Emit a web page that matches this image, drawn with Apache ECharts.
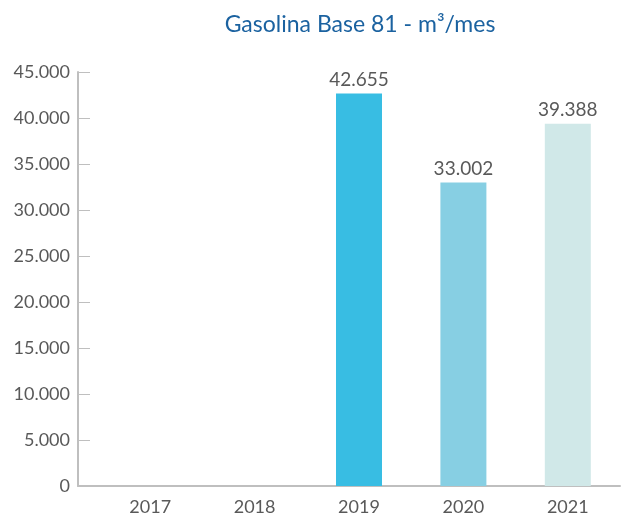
<!DOCTYPE html>
<html lang="es">
  <head>
    <meta charset="UTF-8" />
    <title>Gasolina Base 81</title>
    <script src="https://cdn.jsdelivr.net/npm/echarts@6/dist/echarts.min.js"></script>
  </head>
  <body style="margin:0">
    <div id="container" style="width: 624px;height: 517px"></div>
    <script>
      var years = ['2017', '2018', '2019', '2020', '2021']
      var volumes = [null, null, 42655, 33002, 39388]
      var barColors = ['#38bde3', '#38bde3', '#38bde3', '#87cfe3', '#d0e8e8']

      // separador de miles con punto
      function fmt(v) {
        return String(v).replace(/\B(?=(\d{3})+(?!\d))/g, '.')
      }

      var myChart = echarts.init(document.querySelector('#container'))
      myChart.setOption({
        animation: false,
        backgroundColor: '#fff',
        title: {
          text: 'Gasolina Base 81 - m³/mes',
          left: 355,
          textAlign: 'center',
          top: 8,
          textStyle: { color: '#1b62a0', fontSize: 23, fontWeight: 'normal', fontFamily: 'Lato' }
        },
        grid: [
          { left: 98, right: 4, top: 72, bottom: 31 },
          // solo para prolongar la linea base hasta el eje y
          { left: 78, right: 4, top: 486, bottom: 31 }
        ],
        xAxis: [
          {
            type: 'category',
            data: years,
            axisLine: { show: false },
            axisTick: { show: false },
            axisLabel: { color: '#595959', fontSize: 18, margin: 12, fontFamily: 'Lato' }
          },
          {
            type: 'category',
            gridIndex: 1,
            data: years,
            axisLine: { lineStyle: { color: '#bfbfbf', width: 2 } },
            axisTick: { show: false },
            axisLabel: { show: false }
          }
        ],
        yAxis: [
          {
            type: 'value',
            min: 0,
            max: 45000,
            interval: 5000,
            offset: 20,
            splitLine: { show: false },
            axisLine: { show: true, lineStyle: { color: '#bfbfbf', width: 2 } },
            axisTick: { show: true, inside: true, length: 12, lineStyle: { color: '#bfbfbf', width: 1 } },
            axisLabel: {
              color: '#595959',
              fontSize: 18,
              margin: 8,
              fontFamily: 'Lato',
              formatter: function(v) { return fmt(v) }
            }
          },
          { type: 'value', gridIndex: 1, show: false }
        ],
        series: [
          {
            type: 'bar',
            barWidth: 46,
            data: volumes.map(function(v, i) {
              return { value: v, itemStyle: { color: barColors[i] } }
            }),
            label: {
              show: true,
              position: 'top',
              distance: 4,
              color: '#595959',
              fontSize: 19,
              fontFamily: 'Lato',
              formatter: function(p) { return fmt(p.value) }
            }
          }
        ]
      })
    </script>
  </body>
</html>
